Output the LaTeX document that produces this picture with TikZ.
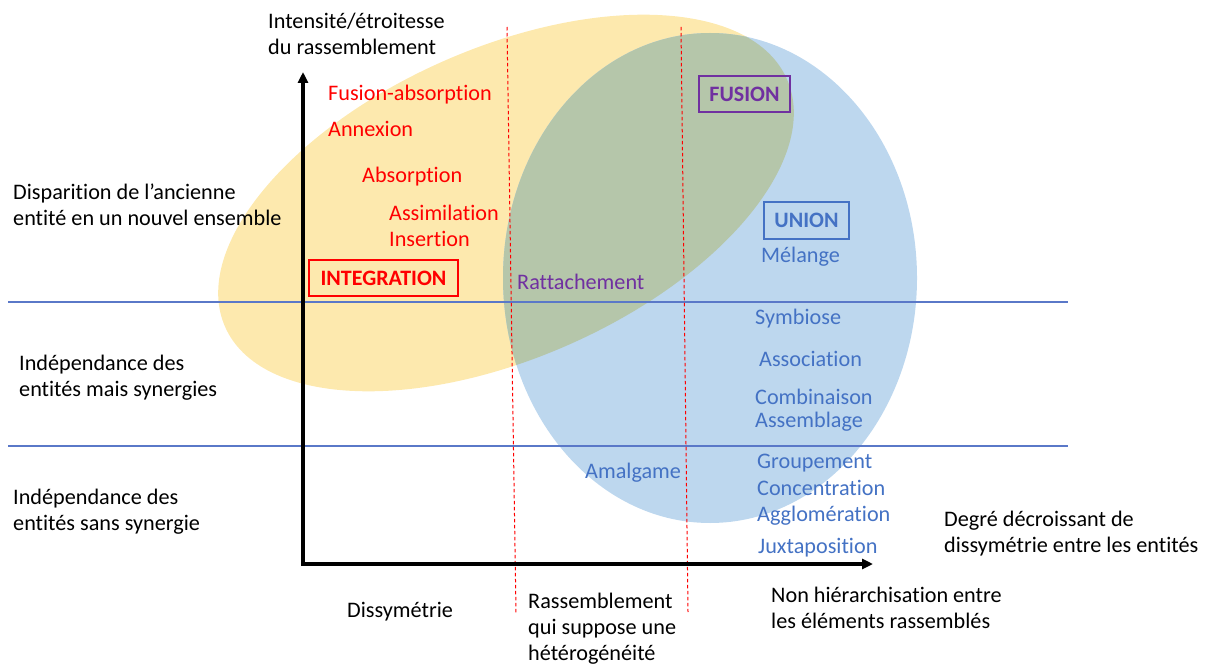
\documentclass[tikz,border=0pt]{standalone}
\usepackage{fontspec}
\setmainfont{Carlito}[Ligatures=NoCommon]
\usetikzlibrary{arrows.meta}
\definecolor{ylw}{RGB}{253,233,174}
\definecolor{blu}{RGB}{189,215,238}
\definecolor{ovl}{RGB}{181,198,170}
\definecolor{tred}{RGB}{255,0,0}
\definecolor{tpur}{RGB}{112,48,160}
\definecolor{tblu}{RGB}{68,114,196}
\definecolor{lblu}{RGB}{90,120,200}
\tikzset{
  txt/.style={inner sep=0pt, font=\fontsize{22.2}{26}\selectfont},
  one/.style={txt, anchor=base west},
  multi/.style={txt, anchor=north west, align=left},
  redt/.style={text=tred},
  purt/.style={text=tpur},
  blut/.style={text=tblu},
  boxlab/.style={txt, font=\fontsize{22}{26}\selectfont\bfseries, draw, line width=1.1pt},
  sepline/.style={draw=lblu, line width=1.1pt},
  redsep/.style={draw=tred, line width=1pt, dash pattern=on 3.5pt off 2.5pt},
  axis/.style={line width=3.3pt, {Triangle[length=11pt,width=10pt]}-{Triangle[length=11pt,width=10pt]}}
}
\begin{document}
\begin{tikzpicture}[x=1pt,y=-1pt]
\useasboundingbox (0,0) rectangle (1212,668);
% ellipses
\fill[ylw, rotate around={23.8:(506,203)}] (506,203) ellipse [x radius=307, y radius=155];
\fill[blu] (710,278) ellipse [x radius=207, y radius=245];
\begin{scope}
  \clip[rotate around={23.8:(506,203)}] (506,203) ellipse [x radius=307, y radius=155];
  \fill[ovl] (710,278) ellipse [x radius=207, y radius=245];
\end{scope}
% horizontal separators
\coordinate (h1a) at (8,302); \coordinate (h1b) at (1068,302);
\coordinate (h2a) at (8,446); \coordinate (h2b) at (1068,446);
\draw[sepline] (h1a) -- (h1b);
\draw[sepline] (h2a) -- (h2b);
% red dashed separators
\coordinate (v1a) at (507,27); \coordinate (v1b) at (516,613);
\coordinate (v2a) at (681,27); \coordinate (v2b) at (688,612);
\draw[redsep] (v1a) -- (v1b);
\draw[redsep] (v2a) -- (v2b);
% axes
\coordinate (ytip) at (303,72);
\coordinate (O) at (303,564);
\coordinate (xtip) at (873,564);
\draw[axis, line join=miter] (ytip) -- (O) -- (xtip);
% black labels
\node[multi] (ylab) at (268,9.8) {\strut Intensité/étroitesse\\du rassemblement};
\node[multi] (r1) at (13,180.8) {\strut Disparition de l’ancienne\\entité en un nouvel ensemble};
\node[multi] (r2) at (19,351.8) {\strut Indépendance des\\entités mais synergies};
\node[multi] (r3) at (13,485.8) {\strut Indépendance des\\entités sans synergie};
\node[one] (c1) at (347,617) {Dissymétrie};
\node[multi] (c2) at (528,589.8) {\strut Rassemblement\\qui suppose une\\hétérogénéité};
\node[multi] (c3) at (771,583.8) {\strut Non hiérarchisation entre\\les éléments rassemblés};
\node[multi] (xlab) at (944,507.8) {\strut Degré décroissant de\\dissymétrie entre les entités};
% red terms
\node[one, redt] (t1) at (328,101) {Fusion-absorption};
\node[one, redt] (t2) at (328,137) {Annexion};
\node[one, redt] (t3) at (362,183) {Absorption};
\node[multi, redt] (t4) at (389,201.8) {\strut Assimilation\\Insertion};
\node[boxlab, draw=tred, text=tred, minimum width=149pt, minimum height=36pt] (integ) at (383.5,278) {INTEGRATION};
% purple terms
\node[one, purt] (t5) at (517,289) {Rattachement};
\node[boxlab, draw=tpur, text=tpur, minimum width=91pt, minimum height=36pt] (fusion) at (744.5,94) {FUSION};
% blue terms
\node[boxlab, draw=tblu, text=tblu, minimum width=85pt, minimum height=37pt] (union) at (806.5,220.5) {UNION};
\node[one, blut] (b1) at (761,263) {Mélange};
\node[one, blut] (b2) at (755,324) {Symbiose};
\node[one, blut] (b3) at (759,366) {Association};
\node[one, blut] (b4) at (755,404) {Combinaison};
\node[one, blut] (b5) at (755,427) {Assemblage};
\node[one, blut] (b6) at (585,478) {Amalgame};
\node[one, blut] (b7) at (757,468) {Groupement};
\node[one, blut] (b8) at (757,495) {Concentration};
\node[one, blut] (b9) at (757,521) {Agglomération};
\node[one, blut] (b10) at (758,553) {Juxtaposition};
\end{tikzpicture}
\end{document}
